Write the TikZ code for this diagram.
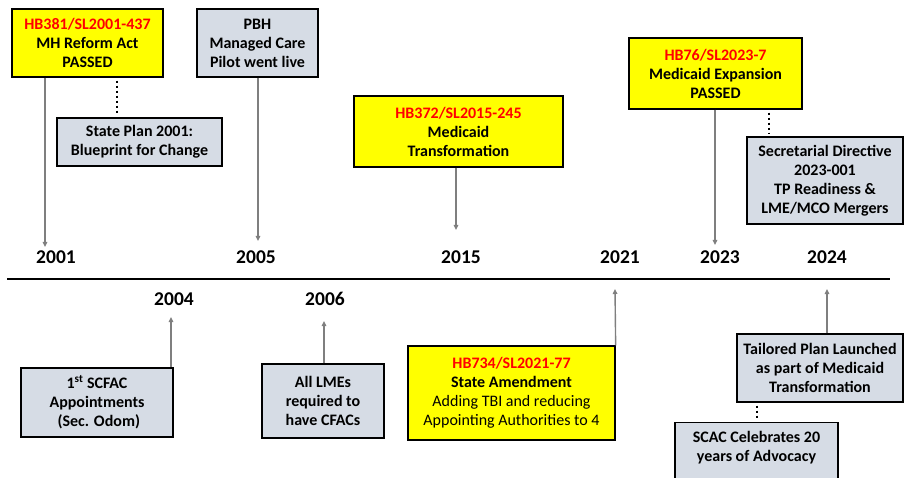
\documentclass[tikz,border=0pt]{standalone}
\usepackage{fontspec}
\setmainfont{Carlito}
\usetikzlibrary{arrows.meta}
\definecolor{boxgray}{HTML}{D6DCE5}
\definecolor{lawred}{HTML}{FF0000}
\definecolor{boxyellow}{HTML}{FFFF00}
\definecolor{arrgray}{HTML}{7F7F7F}
\newcommand\bxfont{\fontsize{16}{19}\selectfont\bfseries}
\newcommand\yrfont{\fontsize{19.5}{23}\selectfont\bfseries}
\newcommand\lawno[1]{\textcolor{lawred}{#1}}
\tikzset{
  basebox/.style={draw=black, line width=1.3pt, inner sep=0pt, align=center, font=\bxfont},
  ybox/.style={basebox, fill=boxyellow},
  gbox/.style={basebox, fill=boxgray},
  txt/.style={inner sep=0pt, align=center, font=\bxfont},
  year/.style={inner sep=0pt, font=\yrfont},
  arr/.style={draw=arrgray, line width=1.4pt, -{Triangle[length=5pt,width=4.5pt]}},
  dotline/.style={draw=black, line width=2.2pt, dash pattern=on 2.5pt off 2.5pt},
  tline/.style={draw=black, line width=2.6pt}
}
\begin{document}
\begin{tikzpicture}[x=1pt,y=-1pt]
\useasboundingbox (0,0) rectangle (904,478);
\clip (0,0) rectangle (904,478);
% timeline
\coordinate (tlA) at (7,279);
\coordinate (tlB) at (890,279);
\draw[tline] (tlA) -- (tlB);
% years
\node[year] (y2001) at (56,257) {2001};
\node[year] (y2005) at (256,257) {2005};
\node[year] (y2015) at (461,257) {2015};
\node[year] (y2021) at (620,257) {2021};
\node[year] (y2023) at (720,257) {2023};
\node[year] (y2024) at (827,257) {2024};
\node[year] (y2004) at (174,299) {2004};
\node[year] (y2006) at (325,299) {2006};
% upper boxes
\node[ybox, minimum width=151, minimum height=68] (b2001) at (87.5,43)
  {\lawno{HB381/SL2001-437}\\MH Reform Act\\PASSED};
\node[gbox, minimum width=165, minimum height=48] (sp2001) at (139.5,142)
  {State Plan 2001:\\Blueprint for Change};
\node[gbox, minimum width=121, minimum height=68] (pbh) at (257.5,43)
  {PBH\\Managed Care\\Pilot went live};
\node[ybox, minimum width=209, minimum height=71] (b2015) at (458.5,131.5)
  {\lawno{HB372/SL2015-245}\\Medicaid\\Transformation};
\node[ybox, minimum width=173, minimum height=71] (b2023) at (715.5,73.5)
  {\lawno{HB76/SL2023-7}\\Medicaid Expansion\\PASSED};
\node[gbox, minimum width=156, minimum height=87] (sd) at (825,180.5)
  {Secretarial Directive\\2023-001\\TP Readiness \&\\LME/MCO Mergers};
% lower boxes
\node[gbox, minimum width=152, minimum height=69] (scfac) at (97,402.5)
  {1\textsuperscript{st} SCFAC\\Appointments\\\ (Sec. Odom)};
\node[gbox, minimum width=122, minimum height=74] (lme) at (323,401)
  {All LMEs\\required to\\have CFACs};
\node[ybox, minimum width=207, minimum height=94] (b2021) at (511.5,393)
  {\lawno{HB734/SL2021-77}\\State Amendment\\{\mdseries Adding TBI and reducing}\\{\mdseries Appointing Authorities to 4}};
\node[gbox, minimum width=166, minimum height=68] (tp) at (820,368)
  {Tailored Plan Launched\\as part of Medicaid\\Transformation};
\node[gbox, minimum width=163, minimum height=80, anchor=north] (scac) at (756.5,422) {};
\node[txt] (scact) at (756.5,448) {SCAC Celebrates 20\\years of Advocacy};
% arrow end coordinates
\coordinate (e2001) at (45,247);
\coordinate (e2005) at (258,241);
\coordinate (e2015) at (456,230);
\coordinate (e2023) at (715,245);
\coordinate (e2004) at (171,317);
\coordinate (e2006) at (324,321);
\coordinate (e2021) at (615,289);
\coordinate (e2024) at (827,289);
% arrows
\draw[arr] (b2001.south -| e2001) -- (e2001);
\draw[arr] (pbh.south -| e2005) -- (e2005);
\draw[arr] (b2015.south -| e2015) -- (e2015);
\draw[arr] (b2023.south -| e2023) -- (e2023);
\draw[arr] (scfac.north -| e2004) -- (e2004);
\draw[arr] (lme.north -| e2006) -- (e2006);
\draw[arr] (b2021.north east) -- (e2021);
\draw[arr] (tp.north -| e2024) -- (e2024);
% dotted connectors
\coordinate (d2001) at (117,0);
\coordinate (d2023) at (769,0);
\coordinate (d2024) at (757,0);
\draw[dotline, shorten <=3pt, shorten >=4pt] (b2001.south -| d2001) -- (sp2001.north -| d2001);
\draw[dotline, shorten <=3pt, shorten >=2pt] (b2023.south -| d2023) -- (sd.north -| d2023);
\draw[dotline, shorten <=3pt, shorten >=2pt] (tp.south -| d2024) -- (scac.north -| d2024);
\end{tikzpicture}
\end{document}
